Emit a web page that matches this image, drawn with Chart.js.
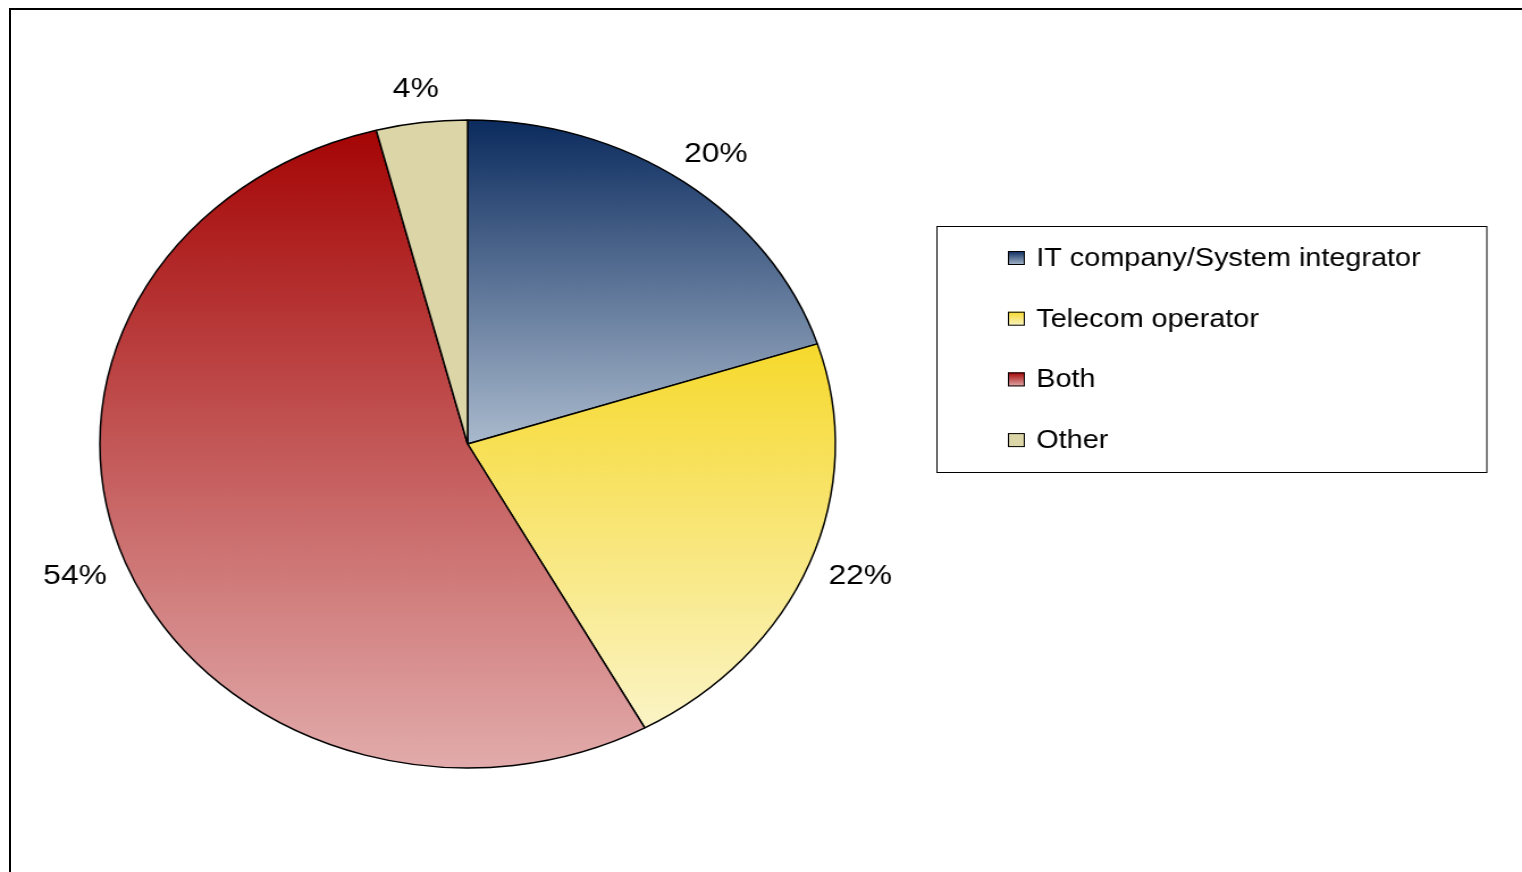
<!DOCTYPE html>
<html>
<head>
<meta charset="utf-8">
<script src="https://cdn.jsdelivr.net/npm/chart.js@4.4.0/dist/chart.umd.min.js"></script>
<style>
  html, body { margin: 0; padding: 0; background: #fff; overflow: hidden; width: 1522px; height: 872px; }
  #frame { position: absolute; left: 9px; top: 8px; width: 1600px; height: 1000px; border-left: 2px solid #000; border-top: 2px solid #000; }
  /* the original picture is stretched sideways, so the chart is drawn narrower and scaled */
  #wrap { position: absolute; left: 0; top: 0; width: 1341px; height: 872px; transform: scaleX(1.135); transform-origin: 0 0; }
</style>
</head>
<body>
<div id="frame"></div>
<div id="wrap"><canvas id="pieChart"></canvas></div>
<script>
const categories = ["IT company/System integrator", "Telecom operator", "Both", "Other"];
const shares = [20, 22, 54, 4];
const pctLabels = ["20%", "22%", "54%", "4%"];

const topColors = ["#0b2b5e", "#f6d92c", "#a50505", "#dcd5a8"];
const bottomColors = ["#aabacd", "#fbf4c6", "#e2abab", "#dcd5a8"];

Chart.defaults.font.family = "'Liberation Sans', Arial, sans-serif";

// vertical gradient over each slice's own height
const sliceGradients = {
  id: 'sliceGradients',
  beforeDatasetsDraw(chart) {
    const ctx = chart.ctx;
    chart.getDatasetMeta(0).data.forEach((arc, i) => {
      const { x, y, startAngle, endAngle, outerRadius } = arc.getProps(['x', 'y', 'startAngle', 'endAngle', 'outerRadius']);
      const ys = [y, y + outerRadius * Math.sin(startAngle), y + outerRadius * Math.sin(endAngle)];
      [-Math.PI / 2, Math.PI / 2, 3 * Math.PI / 2].forEach(a => {
        if (a > startAngle && a < endAngle) ys.push(y + outerRadius * Math.sin(a));
      });
      const g = ctx.createLinearGradient(0, Math.min(...ys), 0, Math.max(...ys));
      g.addColorStop(0, topColors[i]);
      g.addColorStop(1, bottomColors[i]);
      arc.options.backgroundColor = g;
    });
  }
};

// labels outside the pie, text box pushed away from the anchor point
const outsideLabels = {
  id: 'outsideLabels',
  afterDatasetsDraw(chart) {
    const ctx = chart.ctx;
    ctx.save();
    ctx.font = "28px 'Liberation Sans', Arial, sans-serif";
    ctx.fillStyle = '#000';
    ctx.textAlign = 'center';
    ctx.textBaseline = 'middle';
    chart.getDatasetMeta(0).data.forEach((arc, i) => {
      const { x, y, startAngle, endAngle, outerRadius } = arc.getProps(['x', 'y', 'startAngle', 'endAngle', 'outerRadius']);
      const mid = (startAngle + endAngle) / 2;
      const r = outerRadius + 20;
      const w = ctx.measureText(pctLabels[i]).width;
      const h = 28;
      const cx = x + r * Math.cos(mid) + Math.cos(mid) * w / 2;
      const cy = y + r * Math.sin(mid) + Math.sin(mid) * h / 2;
      ctx.fillText(pctLabels[i], cx, cy);
    });
    ctx.restore();
  }
};

const boxLegend = {
  id: 'boxLegend',
  afterDraw(chart) {
    const ctx = chart.ctx;
    ctx.save();
    ctx.strokeStyle = '#000';
    ctx.lineWidth = 1;
    ctx.strokeRect(825.5, 226.5, 484.5, 246);
    ctx.font = "25.4px 'Liberation Sans', Arial, sans-serif";
    ctx.textBaseline = 'middle';
    categories.forEach((name, i) => {
      const cy = 258 + i * 60.7;
      const g = ctx.createLinearGradient(0, cy - 7, 0, cy + 7);
      g.addColorStop(0, topColors[i]);
      g.addColorStop(1, bottomColors[i]);
      ctx.fillStyle = g;
      ctx.fillRect(888, cy - 7, 15, 14);
      ctx.strokeRect(888.5, cy - 6.5, 14, 13);
      ctx.fillStyle = '#000';
      ctx.fillText(name, 913, cy + 1);
    });
    ctx.restore();
  }
};

new Chart("pieChart", {
  type: "pie",
  data: {
    labels: categories,
    datasets: [{
      data: shares,
      backgroundColor: topColors,
      borderColor: "#000",
      borderWidth: 1.5,
      radius: 324
    }]
  },
  options: {
    responsive: true,
    maintainAspectRatio: false,
    animation: false,
    events: [],
    layout: { padding: { left: 0, right: 517, top: 16, bottom: 0 } },
    plugins: {
      legend: { display: false },
      tooltip: { enabled: false }
    }
  },
  plugins: [sliceGradients, outsideLabels, boxLegend]
});
</script>
</body>
</html>
